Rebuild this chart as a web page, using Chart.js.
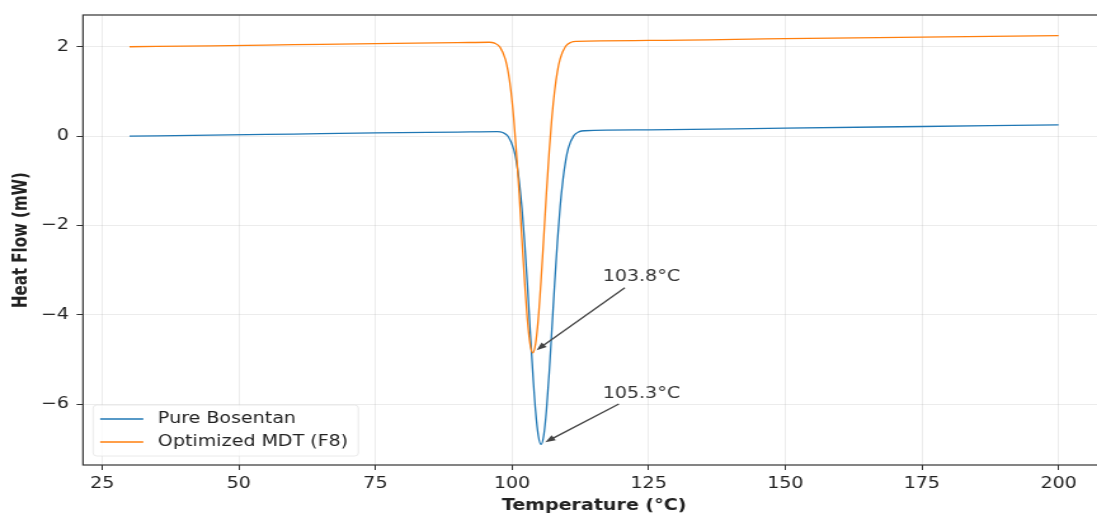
<!DOCTYPE html>
<html>
<head>
<meta charset="utf-8">
<title>DSC thermogram</title>
<script src="https://cdn.jsdelivr.net/npm/chart.js@4"></script>
<style>
  html, body { margin: 0; padding: 0; background: #fff; overflow: hidden; }
  /* the reference picture is stretched sideways, so the chart is too */
  #wrap { width: 880px; height: 513px; transform: scaleX(1.2697); transform-origin: 0 0; }
  #dsc { display: block; width: 880px; height: 513px; }
</style>
</head>
<body>
<div id="wrap"><canvas id="dsc" width="880" height="513"></canvas></div>
<script>
const seriesNames = ["Pure Bosentan", "Optimized MDT (F8)"];
const seriesColors = ["#1f77b4", "#ff7f0e"];

const bosentanTemp = [30, 45, 60, 75, 90, 97.3, 98.3, 99.3, 100.3, 100.8, 101.3, 101.8, 102.3, 102.8, 103.3, 103.8, 104.3, 104.8,
    105.3, 105.8, 106.3, 106.8, 107.3, 107.8, 108.3, 108.8, 109.3, 109.8, 110.3, 111.3, 112.3, 113.3, 125, 150, 175, 200];
const bosentanHeat = [0.00, 0.02, 0.045, 0.07, 0.09, 0.10, 0.08, -0.01, -0.29, -0.57, -1.00, -1.60, -2.37, -3.30, -4.31, -5.30, -6.14, -6.70,
    -6.90, -6.70, -6.13, -5.29, -4.30, -3.29, -2.36, -1.58, -0.99, -0.56, -0.27, 0.01, 0.10, 0.12, 0.14, 0.18, 0.215, 0.25];

const mdtTemp = [30, 45, 60, 75, 90, 95.8, 96.8, 97.8, 98.8, 99.3, 99.8, 100.3, 100.8, 101.3, 101.8, 102.3, 102.8, 103.3,
    103.8, 104.3, 104.8, 105.3, 105.8, 106.3, 106.8, 107.3, 107.8, 108.3, 108.8, 109.8, 110.8, 111.8, 125, 150, 175, 200];
const mdtHeat = [2.00, 2.02, 2.045, 2.07, 2.09, 2.10, 2.08, 1.99, 1.71, 1.43, 1.01, 0.41, -0.36, -1.27, -2.28, -3.26, -4.09, -4.65,
    -4.85, -4.65, -4.09, -3.25, -2.27, -1.26, -0.34, 0.43, 1.02, 1.45, 1.73, 2.01, 2.10, 2.12, 2.14, 2.18, 2.215, 2.25];

const xTicks = [25, 50, 75, 100, 125, 150, 175, 200];
const yTicks = [-6, -4, -2, 0, 2];

const peakLabels = ["103.8°C", "105.3°C"];
const peakTemp = [103.8, 105.3];
const peakHeat = [-4.85, -6.9];
const labelTemp = [116.6, 116.6];
const labelHeat = [-3.25, -5.85];

const toPoints = (xs, ys) => xs.map((x, i) => ({ x: x, y: ys[i] }));
const fmtTick = v => (v < 0 ? "\u2212" + Math.abs(v) : String(v));

Chart.defaults.font.family = "'DejaVu Sans', sans-serif";
Chart.defaults.font.size = 15;
Chart.defaults.color = "#222";

const framePlugin = {
    id: "frame",
    afterDatasetsDraw(chart) {
        const { ctx, chartArea: a } = chart;
        ctx.save();
        ctx.strokeStyle = "#333";
        ctx.lineWidth = 1.2;
        ctx.strokeRect(a.left, a.top, a.right - a.left, a.bottom - a.top);
        ctx.restore();
    }
};

const peakPlugin = {
    id: "peaks",
    afterDraw(chart) {
        const { ctx, scales: { x, y } } = chart;
        ctx.save();
        ctx.font = "15px 'DejaVu Sans'";
        peakLabels.forEach((label, i) => {
            const tx = x.getPixelForValue(labelTemp[i]);
            const ty = y.getPixelForValue(labelHeat[i]);
            const px = x.getPixelForValue(peakTemp[i]);
            const py = y.getPixelForValue(peakHeat[i]);
            const w = ctx.measureText(label).width;
            ctx.fillStyle = "#333";
            ctx.textAlign = "left";
            ctx.textBaseline = "alphabetic";
            ctx.fillText(label, tx, ty);

            // arrow leaves the text box on the line from its centre to the peak
            const x0 = tx - 3, x1 = tx + w + 3, y0 = ty - 17, y1 = ty + 6.5;
            const cx = (x0 + x1) / 2, cy = (y0 + y1) / 2;
            const dx = px - cx, dy = py - cy;
            const t = Math.min((dx < 0 ? x0 - cx : x1 - cx) / dx, (dy < 0 ? y0 - cy : y1 - cy) / dy);
            const sx = cx + dx * t, sy = cy + dy * t;
            const len = Math.hypot(px - sx, py - sy);
            const ux = (px - sx) / len, uy = (py - sy) / len;
            const ex = px - ux * 4, ey = py - uy * 4;
            const head = 8, half = 3;
            ctx.strokeStyle = "#444";
            ctx.fillStyle = "#444";
            ctx.lineWidth = 1.3;
            ctx.beginPath();
            ctx.moveTo(sx, sy);
            ctx.lineTo(ex - ux * head * 0.6, ey - uy * head * 0.6);
            ctx.stroke();
            ctx.beginPath();
            ctx.moveTo(ex, ey);
            ctx.lineTo(ex - ux * head - uy * half, ey - uy * head + ux * half);
            ctx.lineTo(ex - ux * head + uy * half, ey - uy * head - ux * half);
            ctx.closePath();
            ctx.fill();
        });
        ctx.restore();
    }
};

const legendPlugin = {
    id: "insideLegend",
    afterDraw(chart) {
        const { ctx, chartArea: a } = chart;
        const left = a.left + 8;
        const rowY = [a.bottom - 46, a.bottom - 23];
        ctx.save();
        ctx.font = "15px 'DejaVu Sans'";
        const textW = Math.max(...chart.data.datasets.map(d => ctx.measureText(d.label).width));
        ctx.beginPath();
        ctx.roundRect(left, rowY[0] - 14, 51 + textW + 8, rowY[1] - rowY[0] + 28, 3);
        ctx.fillStyle = "rgba(255,255,255,0.8)";
        ctx.fill();
        ctx.strokeStyle = "rgba(225,225,225,0.7)";
        ctx.lineWidth = 1;
        ctx.stroke();
        chart.data.datasets.forEach((ds, i) => {
            ctx.strokeStyle = ds.borderColor;
            ctx.lineWidth = 1.3;
            ctx.beginPath();
            ctx.moveTo(left + 5.5, rowY[i]);
            ctx.lineTo(left + 39.5, rowY[i]);
            ctx.stroke();
            ctx.fillStyle = "#222";
            ctx.textAlign = "left";
            ctx.textBaseline = "middle";
            ctx.fillText(ds.label, left + 51, rowY[i]);
        });
        ctx.restore();
    }
};

const gridStyle = {
    color: "rgba(176,176,176,0.3)",
    lineWidth: 0.8,
    tickColor: "#333",
    tickLength: 5,
    tickWidth: 1,
};

new Chart(document.getElementById("dsc"), {
    type: "line",
    data: {
        datasets: [{
            label: seriesNames[0],
            data: toPoints(bosentanTemp, bosentanHeat),
            borderColor: seriesColors[0],
            borderWidth: 1.3,
            pointRadius: 0,
            fill: false,
            cubicInterpolationMode: "monotone",
            order: 1,
        }, {
            label: seriesNames[1],
            data: toPoints(mdtTemp, mdtHeat),
            borderColor: seriesColors[1],
            borderWidth: 1.3,
            pointRadius: 0,
            fill: false,
            cubicInterpolationMode: "monotone",
            order: 0,
        }],
    },
    options: {
        responsive: false,
        animation: false,
        devicePixelRatio: 1,
        layout: { padding: { left: 0, right: 9.7, top: 12, bottom: 0 } },
        plugins: {
            legend: { display: false },
            tooltip: { enabled: false },
        },
        scales: {
            x: {
                type: "linear",
                min: 21.5,
                max: 208.5,
                afterBuildTicks: s => { s.ticks = xTicks.map(v => ({ value: v })); },
                afterFit: s => { s.height = 48; },
                grid: gridStyle,
                border: { display: false },
                ticks: { padding: 5.5, maxRotation: 0, autoSkip: false, callback: fmtTick },
                title: {
                    display: true,
                    text: "Temperature (°C)",
                    font: { size: 15, weight: "bold" },
                    padding: { top: 0, bottom: -2 },
                },
            },
            y: {
                min: -7.36,
                max: 2.71,
                afterBuildTicks: s => { s.ticks = yTicks.map(v => ({ value: v })); },
                afterFit: s => { s.width = 65.37; },
                grid: gridStyle,
                border: { display: false },
                ticks: { padding: 6, autoSkip: false, callback: fmtTick },
                title: {
                    display: true,
                    text: "Heat Flow (mW)",
                    font: { size: 15, weight: "bold" },
                    padding: { top: 8.3, bottom: 0 },
                },
            },
        },
    },
    plugins: [framePlugin, peakPlugin, legendPlugin],
});
</script>
</body>
</html>
